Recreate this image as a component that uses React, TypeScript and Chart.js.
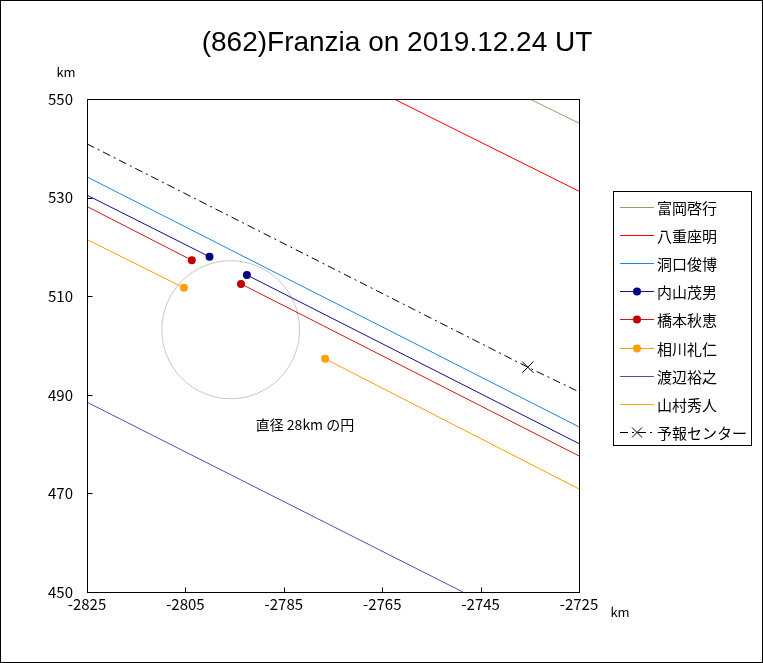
import { useEffect, useRef } from 'react';
import { Chart, registerables } from 'chart.js';

Chart.register(...registerables);

const TITLE = '(862)Franzia on 2019.12.24 UT';
const AXIS_UNIT = 'km';
const CIRCLE_LABEL = '直径 28km の円';

const xTicks = [-2825, -2805, -2785, -2765, -2745, -2725];
const yTicks = [450, 470, 490, 510, 530, 550];

const observerNames = ['富岡啓行', '八重座明', '洞口俊博', '内山茂男', '橋本秋恵', '相川礼仁', '渡辺裕之', '山村秀人', '予報センター'];

type P = { x: number; y: number | null };

const tomiokaPath: P[] = [{ x: -2735.0, y: 550 }, { x: -2725, y: 545.1 }];
const yaePath: P[] = [{ x: -2762.6, y: 550 }, { x: -2725, y: 531.3 }];
const horaguchiPath: P[] = [{ x: -2825, y: 534.2 }, { x: -2725, y: 483.5 }];
const uchiyamaPath: P[] = [
  { x: -2825, y: 530.5 }, { x: -2800.1, y: 518.0 }, { x: -2796.3, y: null }, { x: -2792.5, y: 514.3 }, { x: -2725, y: 480.1 },
];
const hashimotoPath: P[] = [
  { x: -2825, y: 528.2 }, { x: -2803.7, y: 517.3 }, { x: -2798.7, y: null }, { x: -2793.7, y: 512.5 }, { x: -2725, y: 477.6 },
];
const aikawaPath: P[] = [
  { x: -2825, y: 521.5 }, { x: -2805.3, y: 511.7 }, { x: -2791.0, y: null }, { x: -2776.6, y: 497.3 }, { x: -2725, y: 470.9 },
];
const watanabePath: P[] = [{ x: -2825, y: 488.5 }, { x: -2748.6, y: 450 }];
const yamamuraPath: P[] = [];
const forecastPath: P[] = [{ x: -2825, y: 540.9 }, { x: -2735.4, y: 495.6 }, { x: -2725, y: 490.6 }];

const circleCenter = { x: -2795.8, y: 503.2 };
const circleDiameterKm = 28;
const circleLabelPos = { x: -2780.7, y: 483.9 };

const FONT = "'Noto Sans CJK JP', 'Noto Sans', sans-serif";

const lineColors = ['#a09868', '#ff0000', '#1c86e0', '#101090', '#d01818', '#ffa000', '#7040b0', '#f0b000', '#000000'];
const dotColors = ['', '', '', '#000080', '#c00000', '#ffa000', '', '', ''];

const dotRadius = (ctx: any) => (ctx.dataIndex === 1 || ctx.dataIndex === 3 ? 4 : 0);
const crossRadius = (ctx: any) => (ctx.dataIndex === 1 ? 8 : 0);

function makeDatasets(): any[] {
  const plain = (i: number, data: P[]) => ({
    label: observerNames[i], data, borderColor: lineColors[i], backgroundColor: lineColors[i], borderWidth: 1,
    pointRadius: 0, pointHoverRadius: 0, legendMarker: 'none', legendIndex: i,
  });
  const dotted = (i: number, data: P[]) => ({
    label: observerNames[i], data, borderColor: lineColors[i], backgroundColor: dotColors[i], borderWidth: 1,
    pointRadius: dotRadius, pointHoverRadius: dotRadius, pointBackgroundColor: dotColors[i],
    pointBorderColor: dotColors[i], pointBorderWidth: 0, legendMarker: 'dot', legendIndex: i,
  });
  return [
    plain(0, tomiokaPath),
    plain(1, yaePath),
    plain(2, horaguchiPath),
    dotted(3, uchiyamaPath),
    dotted(4, hashimotoPath),
    dotted(5, aikawaPath),
    plain(6, watanabePath),
    plain(7, yamamuraPath),
    {
      label: observerNames[8], data: forecastPath, borderColor: lineColors[8], backgroundColor: lineColors[8],
      borderWidth: 1, borderDash: [8, 4, 2, 4], pointRadius: crossRadius, pointHoverRadius: crossRadius,
      pointStyle: 'crossRot', pointBorderColor: '#000000', pointBorderWidth: 1, legendMarker: 'cross', legendIndex: 8,
    },
  ];
}

const decor = {
  id: 'decor',
  beforeDraw(chart: any) {
    const { ctx, width, height } = chart;
    ctx.save();
    ctx.fillStyle = '#ffffff';
    ctx.fillRect(0, 0, width, height);
    ctx.restore();
  },
  beforeDatasetsDraw(chart: any) {
    const { ctx, scales } = chart;
    const xs = scales.x, ys = scales.y;
    const cx = xs.getPixelForValue(circleCenter.x);
    const cy = ys.getPixelForValue(circleCenter.y);
    const rx = Math.abs(xs.getPixelForValue(circleCenter.x + circleDiameterKm / 2) - cx);
    const ry = Math.abs(ys.getPixelForValue(circleCenter.y + circleDiameterKm / 2) - cy);
    ctx.save();
    ctx.strokeStyle = '#c8c8c8';
    ctx.lineWidth = 1;
    ctx.beginPath();
    ctx.ellipse(cx, cy, rx, ry, 0, 0, Math.PI * 2);
    ctx.stroke();
    ctx.fillStyle = '#000000';
    ctx.font = `14px ${FONT}`;
    ctx.textAlign = 'center';
    ctx.textBaseline = 'middle';
    ctx.fillText(CIRCLE_LABEL, xs.getPixelForValue(circleLabelPos.x), ys.getPixelForValue(circleLabelPos.y));
    ctx.restore();
  },
  afterDraw(chart: any) {
    const { ctx, chartArea, scales, width, height } = chart;
    const xs = scales.x, ys = scales.y;
    ctx.save();
    ctx.setLineDash([]);
    ctx.strokeStyle = '#000000';
    ctx.lineWidth = 1;
    ctx.strokeRect(0.5, 0.5, width - 1, height - 1);
    const l = Math.round(chartArea.left) + 0.5, t = Math.round(chartArea.top) + 0.5;
    const r = Math.round(chartArea.right) + 0.5, b = Math.round(chartArea.bottom) + 0.5;
    ctx.strokeRect(l, t, r - l, b - t);
    ctx.beginPath();
    xs.ticks.forEach((tk: any) => {
      const px = Math.round(xs.getPixelForValue(tk.value)) + 0.5;
      ctx.moveTo(px, b);
      ctx.lineTo(px, b - 5);
    });
    ys.ticks.forEach((tk: any) => {
      const py = Math.round(ys.getPixelForValue(tk.value)) + 0.5;
      ctx.moveTo(l, py);
      ctx.lineTo(l + 5, py);
    });
    ctx.stroke();
    ctx.fillStyle = '#000000';
    ctx.textAlign = 'center';
    ctx.textBaseline = 'middle';
    ctx.font = `28px 'Liberation Sans', Arial, sans-serif`;
    ctx.fillText(TITLE, 397, 43);
    ctx.font = `13px ${FONT}`;
    ctx.fillText(AXIS_UNIT, 66, 72);
    ctx.fillText(AXIS_UNIT, 620, 612);
    const bx = 613.5, by = 191.5, bw = 138, bh = 254;
    ctx.fillStyle = '#ffffff';
    ctx.fillRect(bx, by, bw, bh);
    ctx.strokeStyle = '#000000';
    ctx.strokeRect(bx, by, bw, bh);
    const first = 207, rowH = 28.1;
    chart.data.datasets.forEach((ds: any, i: number) => {
      const k = ds.legendIndex;
      const y = Math.round(first + i * rowH) + 0.5;
      ctx.save();
      ctx.strokeStyle = lineColors[k];
      ctx.lineWidth = 1;
      ctx.setLineDash(ds.borderDash || []);
      ctx.beginPath();
      ctx.moveTo(620, y);
      ctx.lineTo(654, y);
      ctx.stroke();
      ctx.restore();
      if (ds.legendMarker === 'dot') {
        ctx.fillStyle = dotColors[k];
        ctx.beginPath();
        ctx.arc(637, y, 4, 0, Math.PI * 2);
        ctx.fill();
      } else if (ds.legendMarker === 'cross') {
        ctx.strokeStyle = '#000000';
        ctx.beginPath();
        ctx.moveTo(632, y - 5); ctx.lineTo(642, y + 5);
        ctx.moveTo(642, y - 5); ctx.lineTo(632, y + 5);
        ctx.stroke();
      }
      ctx.fillStyle = '#000000';
      ctx.font = `15px ${FONT}`;
      ctx.textAlign = 'left';
      ctx.textBaseline = 'middle';
      ctx.fillText(ds.label, 657, y + 1);
    });
    ctx.restore();
  },
};

export default function App() {
  const ref = useRef<HTMLCanvasElement>(null);
  useEffect(() => {
    const canvas = ref.current!;
    const chart = new Chart(canvas, {
      type: 'line',
      data: { datasets: makeDatasets() },
      options: {
        animation: false,
        responsive: false,
        devicePixelRatio: 1,
        layout: { padding: { left: 0, top: 99, right: 184, bottom: 0 } },
        elements: { line: { tension: 0, fill: false } },
        spanGaps: false,
        plugins: { legend: { display: false }, title: { display: false }, tooltip: { enabled: false } },
        scales: {
          x: {
            type: 'linear',
            min: xTicks[0],
            max: xTicks[xTicks.length - 1],
            afterFit: (s: any) => { s.height = 71; },
            afterBuildTicks: (s: any) => { s.ticks = xTicks.map((v) => ({ value: v })); },
            grid: { display: false, drawTicks: false },
            border: { display: false },
            ticks: {
              padding: 3,
              color: '#000000',
              font: { family: FONT, size: 15 },
              maxRotation: 0,
              autoSkip: false,
              callback: (v: any) => String(v),
            },
          },
          y: {
            type: 'linear',
            min: yTicks[0],
            max: yTicks[yTicks.length - 1],
            afterFit: (s: any) => { s.width = 87; },
            afterBuildTicks: (s: any) => { s.ticks = yTicks.map((v) => ({ value: v })); },
            grid: { display: false, drawTicks: false },
            border: { display: false },
            ticks: {
              padding: 14,
              color: '#000000',
              font: { family: FONT, size: 15 },
              autoSkip: false,
              callback: (v: any) => String(v),
            },
          },
        },
      } as any,
      plugins: [decor],
    });
    return () => chart.destroy();
  }, []);
  return (
    <div style={{ position: 'absolute', left: 0, top: 0, width: 763, height: 663 }}>
      <canvas ref={ref} width={763} height={663} style={{ display: 'block', width: 763, height: 663 }} />
    </div>
  );
}
